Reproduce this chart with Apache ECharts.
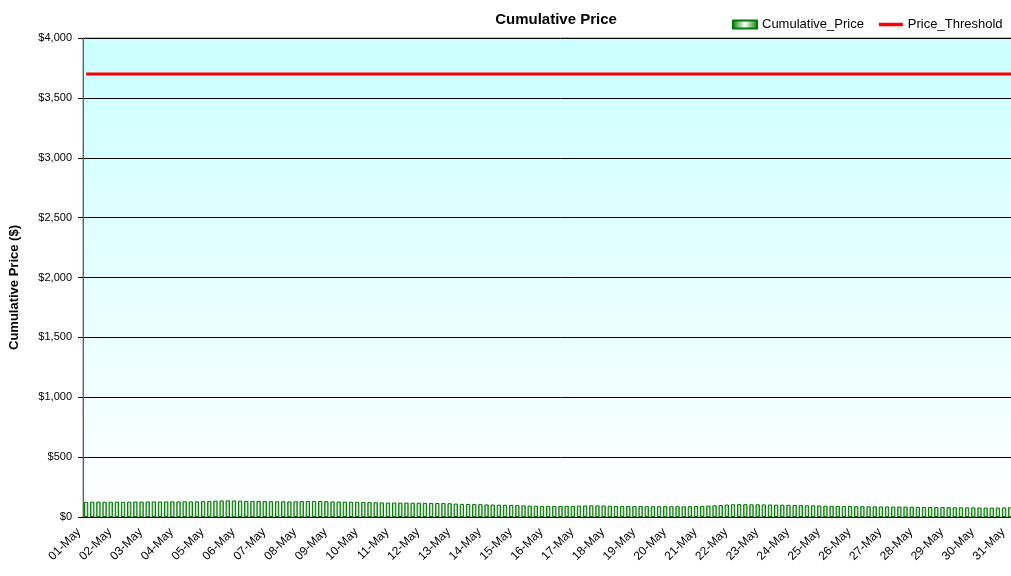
<!DOCTYPE html>
<html>
<head>
<meta charset="utf-8">
<script src="https://cdn.jsdelivr.net/npm/echarts@6/dist/echarts.min.js"></script>
<style>
  html, body { margin: 0; padding: 0; background: #fff; overflow: hidden; }
  /* the plot runs past the right edge of the window, as in the original */
  #chart { width: 1038px; height: 576px; }
</style>
</head>
<body>
<div id="chart"></div>
<script>
// days of the month and the five readings taken each day
const days = ['01-May', '02-May', '03-May', '04-May', '05-May', '06-May', '07-May', '08-May',
  '09-May', '10-May', '11-May', '12-May', '13-May', '14-May', '15-May', '16-May', '17-May',
  '18-May', '19-May', '20-May', '21-May', '22-May', '23-May', '24-May', '25-May', '26-May',
  '27-May', '28-May', '29-May', '30-May', '31-May'];
const slots = ['00:00', '04:48', '09:36', '14:24', '19:12'];

// cumulative price, one row per day
const cumulativePrice = [
  126, 128, 128, 127, 128,
  128, 127, 128, 129, 128,
  129, 130, 129, 130, 130,
  130, 131, 130, 131, 132,
  133, 136, 138, 139, 138,
  136, 135, 134, 134, 133,
  132, 131, 131, 130, 131,
  133, 134, 134, 133, 132,
  130, 129, 128, 128, 127,
  125, 124, 123, 122, 121,
  121, 120, 120, 119, 119,
  118, 117, 117, 116, 115,
  112, 110, 109, 108, 107,
  105, 104, 103, 102, 101,
  99, 97, 95, 94, 93,
  93, 92, 92, 93, 93,
  95, 96, 97, 97, 96,
  94, 93, 92, 92, 91,
  91, 90, 90, 90, 90,
  90, 90, 89, 90, 91,
  93, 95, 97, 100, 104,
  106, 107, 107, 106, 106,
  105, 104, 103, 103, 102,
  100, 99, 98, 97, 96,
  94, 93, 92, 92, 91,
  90, 90, 89, 89, 88,
  88, 87, 87, 86, 86,
  85, 84, 84, 83, 83,
  82, 81, 81, 80, 80,
  79, 78, 78, 79, 80,
  81, 82, 83, 84, 84
];

const priceThreshold = 3700;

// x categories: day + time of reading
const categories = [];
days.forEach(d => slots.forEach(s => categories.push(d + ' ' + s)));
const thresholdLine = categories.map(() => priceThreshold);

const chart = echarts.init(document.getElementById('chart'));

const barFill = new echarts.graphic.LinearGradient(0, 0, 1, 0, [
  { offset: 0, color: '#008000' },
  { offset: 0.5, color: '#ffffff' },
  { offset: 1, color: '#008000' }
]);

const option = {
  animation: false,
  textStyle: { fontFamily: 'Liberation Sans, Arial, sans-serif' },
  title: {
    text: 'Cumulative Price',
    left: 551,
    textAlign: 'center',
    top: 7,
    textStyle: { fontSize: 15, fontWeight: 'bold', color: '#000' }
  },
  legend: {
    left: 727,
    top: 13,
    itemWidth: 24,
    itemHeight: 8,
    itemGap: 15,
    textStyle: { fontSize: 13, color: '#000' },
    data: [
      { name: 'Cumulative_Price', icon: 'rect' },
      { name: 'Price_Threshold', icon: 'path://M0,0h24v3.5h-24z' }
    ]
  },
  grid: {
    left: 83,
    right: 0,
    top: 38,
    bottom: 59,
    show: true,
    borderColor: '#808080',
    borderWidth: 1,
    backgroundColor: new echarts.graphic.LinearGradient(0, 0, 0, 1, [
      { offset: 0, color: '#ccffff' },
      { offset: 1, color: '#ffffff' }
    ])
  },
  xAxis: {
    type: 'category',
    data: categories,
    boundaryGap: true,
    axisLine: { lineStyle: { color: '#000', width: 1 } },
    axisTick: {
      interval: (i) => i % 5 === 0,
      length: 5,
      lineStyle: { color: '#000' }
    },
    axisLabel: {
      interval: (i) => i % 5 === 0,
      rotate: 45,
      margin: 6,
      padding: [0, 10, 0, 0],
      fontSize: 12,
      color: '#000',
      formatter: (v) => v.slice(0, 6)
    },
    splitLine: { show: false }
  },
  yAxis: {
    type: 'value',
    min: 0,
    max: 4000,
    interval: 500,
    name: 'Cumulative Price ($)',
    nameLocation: 'middle',
    nameGap: 62,
    nameTextStyle: { fontSize: 13, fontWeight: 'bold', color: '#000', padding: [0, 20, 0, 0] },
    axisLine: { show: true, lineStyle: { color: '#606060' } },
    axisTick: { show: true, length: 5, lineStyle: { color: '#000' } },
    axisLabel: {
      fontSize: 11,
      color: '#000',
      margin: 11,
      formatter: (v) => '$' + v.toLocaleString('en-US')
    },
    splitLine: { lineStyle: { color: '#000', width: 1 } }
  },
  series: [
    {
      name: 'Cumulative_Price',
      type: 'bar',
      data: cumulativePrice,
      barCategoryGap: '30%',
      itemStyle: {
        color: barFill,
        borderColor: '#007a00',
        borderWidth: 1
      }
    },
    {
      name: 'Price_Threshold',
      type: 'line',
      data: thresholdLine,
      symbol: 'none',
      lineStyle: { color: '#ff0000', width: 3 },
      itemStyle: { color: '#ff0000' }
    }
  ]
};

chart.setOption(option);
</script>
</body>
</html>
